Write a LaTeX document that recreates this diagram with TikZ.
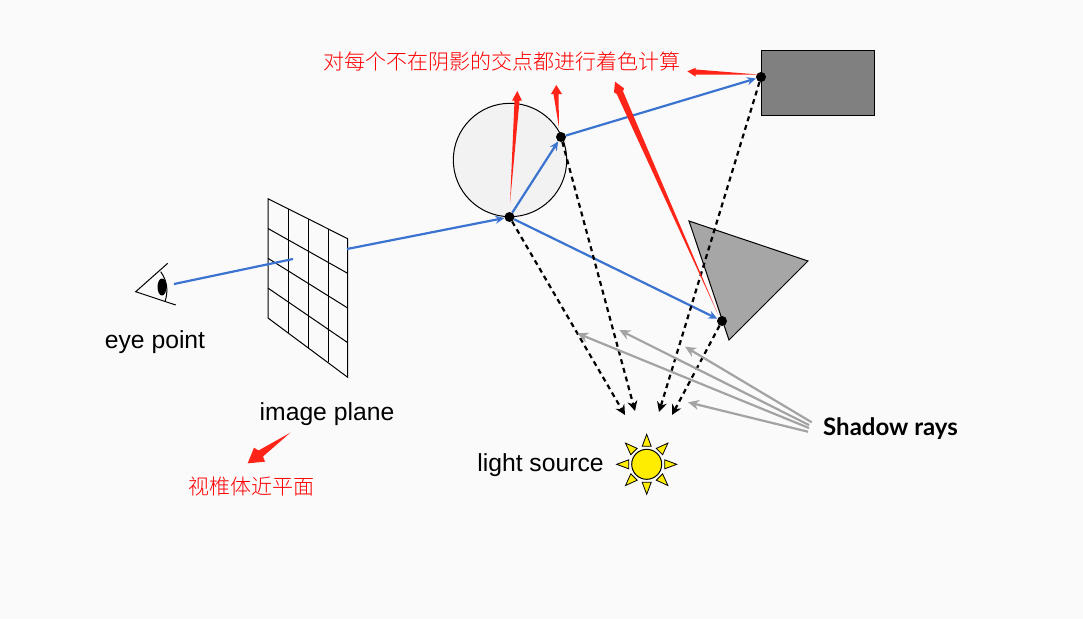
\documentclass[tikz,border=0pt]{standalone}
\usepackage{fontspec}
\setmainfont{Liberation Sans}
\newfontfamily\cjk{Noto Sans CJK SC Light}
\newfontfamily\shadowfont{Lato}
\usetikzlibrary{arrows.meta}
\definecolor{rayblue}{HTML}{3B73D1}
\definecolor{hotred}{HTML}{FF2418}
\definecolor{raygrey}{HTML}{A3A3A3}
\tikzset{
  hitpoint/.style={circle,fill=black,inner sep=0pt,minimum size=10pt},
  blueray/.style={rayblue,line width=2.2pt},
  bluetip/.style={blueray,-{Stealth[length=9pt,width=8pt]}},
  lightray/.style={black,line width=2.2pt,dash pattern=on 5pt off 4pt,-{Stealth[length=10pt,width=10pt]}},
  greyray/.style={raygrey,line width=2.2pt,-{Stealth[length=11pt,width=10pt]}},
  redspike/.style={fill=hotred},
  label/.style={font=\fontsize{24.7}{28}\selectfont,inner sep=0pt},
  redlabel/.style={font=\fontsize{21}{25}\selectfont\cjk,text=red,inner sep=0pt},
}
\begin{document}
\begin{tikzpicture}[x=1pt,y=-1pt]
        % Background
        \fill[black!2] (0,0) rectangle (1083,619);

        % Eye
        \draw[line width=1pt] (167.7,263.3) -- (135.7,291.7) -- (175.7,305);
        \draw[line width=1pt] (160.7,271.7) .. controls (168,282) and (168,292) .. (165,301.7);
        \fill[black] (162,287) ellipse (4.5 and 8.5);

        % Image plane
        \draw[line width=1pt] (268,198.7) -- (347.7,238.7) -- (347.7,377.3) -- (268,318) -- cycle;
        \foreach \i in {1,2,3} {
          \draw[line width=1pt] (268+20*\i,198.7+10*\i) -- (268+20*\i,318+14.8*\i);
          \draw[line width=1pt] (268,198.7+29.8*\i) -- (347.7,238.7+34.65*\i);
        }

        % Objects
        \draw[fill=black!5,line width=1pt] (510,160) circle (56.7);
        \draw[fill=black!50,line width=1pt] (761.5,50) rectangle (874.5,115.5);
        \draw[fill=black!35,line width=1pt] (689,221) -- (808,261) -- (729,340) -- cycle;

        % Sun
        \foreach \a in {0,45,...,315} {
          \draw[fill=yellow!95!orange,line width=0.8pt,rotate around={\a:(646.7,464.3)}]
            (664.7,459.8) -- (676.7,464.3) -- (664.7,468.8) -- cycle;
        }
        \draw[fill=yellow!95!orange,line width=1pt] (646.7,464.3) circle (15);

        % Hit points
        \node[hitpoint] (hitA) at (509.5,217) {};
        \node[hitpoint] (hitB) at (561,137) {};
        \node[hitpoint] (hitC) at (761,77) {};
        \node[hitpoint] (hitD) at (722,321) {};

        % Free ends
        \coordinate (eyeStart) at (174,284);
        \coordinate (eyeEnd) at (293,259);
        \coordinate (planeExit) at (347,249);
        \coordinate (sunA) at (625,415);
        \coordinate (sunB) at (635,411);
        \coordinate (sunC) at (659,412);
        \coordinate (sunD) at (672,415);

        % Eye rays
        \draw[blueray] (eyeStart) -- (eyeEnd);
        \draw[bluetip] (planeExit) -- (hitA);
        \draw[bluetip] (hitA) -- (hitB);
        \draw[bluetip] (hitB) -- (hitC);
        \draw[bluetip] (hitA) -- (hitD);

        % Rays to the light
        \draw[lightray] (hitA) -- (sunA);
        \draw[lightray] (hitB) -- (sunB);
        \draw[lightray] (hitC) -- (sunC);
        \draw[lightray] (hitD) -- (sunD);

        % Shadow rays
        \node[label,font=\fontsize{24}{28}\selectfont\shadowfont\bfseries,anchor=west] (shadow) at (823,429) {Shadow rays};
        \coordinate (fanA) at (811.7,422.3);
        \coordinate (fanB) at (809,425);
        \coordinate (fanC) at (809,428);
        \coordinate (fanD) at (808,431.7);
        \coordinate (tipA) at (685,346.7);
        \coordinate (tipB) at (619.3,330);
        \coordinate (tipC) at (577.3,333.3);
        \coordinate (tipD) at (688,402.3);
        \draw[greyray] (fanA) -- (tipA);
        \draw[greyray] (fanB) -- (tipB);
        \draw[greyray] (fanC) -- (tipC);
        \draw[greyray] (fanD) -- (tipD);

        % Red spikes
        \fill[redspike] (510,203) -- (514.5,100.7) -- (512,100.7) -- (517.3,91) -- (522,100.7) -- (519.5,100.7) -- cycle;
        \fill[redspike] (559,127.7) -- (553.5,94) -- (551,94) -- (556.3,85) -- (562,94) -- (558.5,94) -- cycle;
        \fill[redspike] (760.7,74.7) -- (695.7,69.5) -- (695.7,67.7) -- (687.3,71.3) -- (695.7,76.7) -- (695.7,74.5) -- cycle;
        \fill[redspike] (718.3,315) -- (623,91.3) -- (624,88.3) -- (615,81.7) -- (614,92.3) -- (616.8,94.1) -- cycle;
        \fill[redspike] (290.3,432.7) -- (258.5,450.5) -- (254,447.7) -- (247.7,463.3) -- (265,461.7) -- (263,456.5) -- cycle;

        % Labels
        \node[label] (eyeLabel) at (155,342.5) {eye point};
        \node[label] (planeLabel) at (327,414.5) {image plane};
        \node[label] (lightLabel) at (540.5,465.5) {light source};
        \node[redlabel] (shadeLabel) at (502,61) {对每个不在阴影的交点都进行着色计算};
        \node[redlabel] (nearLabel) at (251,487) {视椎体近平面};
      \end{tikzpicture}
\end{document}
